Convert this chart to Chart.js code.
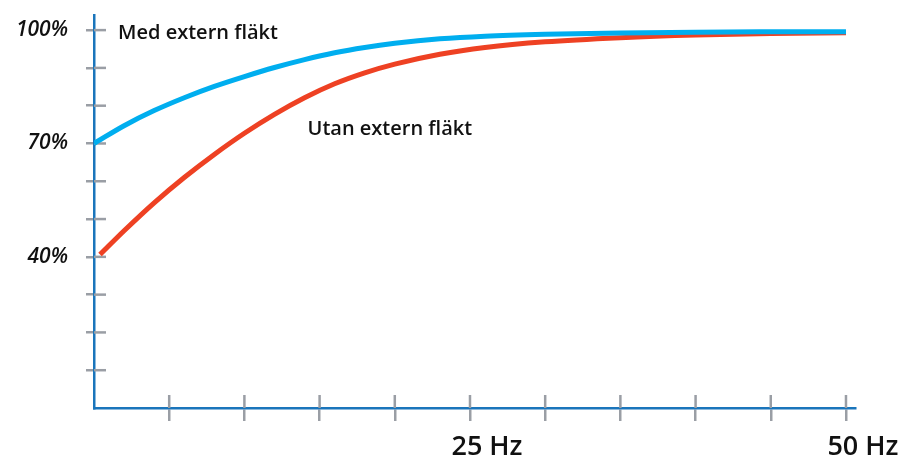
<!DOCTYPE html>
<html><head><meta charset="utf-8">
<script src="https://cdn.jsdelivr.net/npm/chart.js@4.4.1/dist/chart.umd.min.js"></script>
<style>html,body{margin:0;padding:0;background:#fff}#wrap{width:910px;height:457px}</style>
</head><body><div id="wrap"><canvas id="c" width="910" height="457"></canvas></div>
<script>
const medFreqHz = [0, 2, 4, 6, 8, 10, 12, 14, 16, 18, 20, 23, 26, 30, 35, 40, 45, 50];
const medExternFlakt = [70, 74.7, 78.7, 82.1, 85.1, 87.7, 90.1, 92.2, 94.0, 95.4, 96.5, 97.7, 98.4, 98.9, 99.25, 99.45, 99.55, 99.6];
const utanFreqHz = [0.4, 2, 4, 6, 8, 10, 12, 14, 16, 18, 20, 23, 26, 30, 35, 40, 45, 50];
const utanExternFlakt = [40.6, 46.9, 54.3, 61.0, 67.1, 72.7, 77.7, 82.1, 85.8, 88.7, 91.0, 93.6, 95.4, 96.9, 98.0, 98.7, 99.1, 99.3];
const xTickLabels = {25: '25 Hz', 50: '50 Hz'};
const yTickLabels = {40: '40%', 70: '70%', 100: '100%'};
const seriesNames = ['Med extern fläkt', 'Utan extern fläkt'];
const seriesLabelAt = [[1.6, 97.6], [14.2, 72.2]];

const BLUE = '#00aeef', RED = '#ee4123', AXIS = '#1a75bb', TICK = '#9a9ea5';

const innerTicks = {
  id: 'innerTicks',
  beforeDatasetsDraw(chart) {
    const {ctx, scales: {x, y}} = chart;
    ctx.save();
    ctx.strokeStyle = TICK; ctx.lineWidth = 2.5;
    const x0 = x.getPixelForValue(0), y0 = y.getPixelForValue(0);
    y.ticks.forEach(t => {
      if (t.value === 0) return;
      const p = y.getPixelForValue(t.value);
      ctx.beginPath(); ctx.moveTo(x0, p); ctx.lineTo(x0 + 12, p); ctx.stroke();
    });
    x.ticks.forEach(t => {
      if (t.value === 0) return;
      const p = x.getPixelForValue(t.value);
      ctx.beginPath(); ctx.moveTo(p, y0); ctx.lineTo(p, y0 - 13); ctx.stroke();
    });
    ctx.restore();
  },
  afterDatasetsDraw(chart) {
    const {ctx, scales: {x, y}} = chart;
    ctx.save();
    ctx.fillStyle = '#111';
    ctx.font = '600 20px "Open Sans"';
    ctx.textAlign = 'left'; ctx.textBaseline = 'alphabetic';
    seriesNames.forEach((n, i) => {
      ctx.fillText(n, x.getPixelForValue(seriesLabelAt[i][0]), y.getPixelForValue(seriesLabelAt[i][1]));
    });
    ctx.restore();
  }
};

new Chart(document.getElementById('c'), {
  type: 'line',
  data: {
    datasets: [
      {label: seriesNames[0], data: medFreqHz.map((f, i) => ({x: f, y: medExternFlakt[i]})), borderColor: BLUE, borderWidth: 5, pointRadius: 0, cubicInterpolationMode: 'monotone', fill: false},
      {label: seriesNames[1], data: utanFreqHz.map((f, i) => ({x: f, y: utanExternFlakt[i]})), borderColor: RED, borderWidth: 5, pointRadius: 0, cubicInterpolationMode: 'monotone', fill: false}
    ]
  },
  options: {
    responsive: false, animation: false, devicePixelRatio: 1,
    layout: {padding: {left: 0, right: 55, top: 15, bottom: 0}},
    plugins: {legend: {display: false}, tooltip: {enabled: false}},
    scales: {
      x: {
        type: 'linear', min: 0, max: 50.6,
        afterFit(s) { s.height = 49; s.paddingLeft = 0; s.paddingRight = 0; },
        border: {display: true, color: AXIS, width: 2.5},
        grid: {display: true, drawOnChartArea: false, drawTicks: true, tickLength: 13, lineWidth: 2.5,
               color: c => (c.tick && c.tick.value === 0) ? 'rgba(0,0,0,0)' : TICK},
        ticks: {stepSize: 5, includeBounds: false, autoSkip: false, maxRotation: 0, padding: 10, labelOffset: 17,
                color: '#111', font: {family: 'Open Sans', size: 27, weight: '600'},
                callback: v => xTickLabels[v] || ''}
      },
      y: {
        type: 'linear', min: 0, max: 104,
        afterFit(s) { s.width = 94; s.paddingTop = 0; s.paddingBottom = 0; },
        border: {display: true, color: AXIS, width: 2.5},
        grid: {display: true, drawOnChartArea: false, drawTicks: true, tickLength: 8, lineWidth: 2.5,
               color: c => (c.tick && c.tick.value === 0) ? 'rgba(0,0,0,0)' : TICK},
        ticks: {stepSize: 10, includeBounds: false, autoSkip: false, padding: 18,
                color: '#111', font: {family: 'Open Sans', size: 21, style: 'italic', weight: '600'},
                callback: v => yTickLabels[v] || ''}
      }
    }
  },
  plugins: [innerTicks]
});
</script></body></html>
